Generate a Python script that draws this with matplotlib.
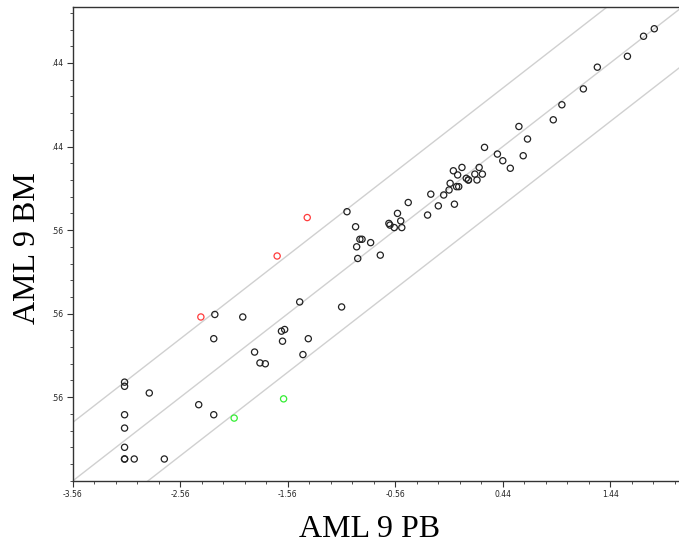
import matplotlib
matplotlib.use("Agg")
import matplotlib.pyplot as plt
import numpy as np
from matplotlib.ticker import FixedLocator

# values (PB on x, BM on y)
black_pb = [-3.08, -3.08, -2.85, -2.39, -3.08, -2.25, -3.08, -3.08, -3.08, -3.08,
            -2.99, -2.71, -1.82, -1.77, -2.24, -1.98, -2.25, -1.45, -1.62, -1.59,
            -1.61, -1.37, -1.87, -1.42, -1.06, -1.01, -0.93, -0.89, -0.87, -0.79,
            -0.92, -0.91, -0.70, -0.44, -0.54, -0.51, -0.62, -0.61, -0.57, -0.50,
            -0.23, -0.11, -0.16, -0.26, -0.01, -0.06, -0.05, 0.01, 0.03, 0.02,
            -0.02, 0.06, 0.10, 0.12, 0.12, 0.18, 0.25, 0.22, 0.20, 0.27,
            0.67, 0.39, 0.63, 0.44, 0.51, 0.59, 0.91, 0.99, 1.19, 1.32,
            1.60, 1.75, 1.85]
black_bm = [-2.38, -2.43, -2.51, -2.65, -2.77, -2.77, -2.93, -3.16, -3.30, -3.30,
            -3.30, -3.30, -2.15, -2.16, -1.57, -1.60, -1.86, -1.42, -1.77, -1.75,
            -1.89, -1.86, -2.02, -2.05, -1.48, -0.34, -0.52, -0.67, -0.67, -0.71,
            -0.76, -0.90, -0.86, -0.23, -0.36, -0.45, -0.48, -0.50, -0.53, -0.53,
            -0.13, -0.14, -0.27, -0.38, -0.25, -0.08, 0.00, -0.04, -0.04, 0.10,
            0.15, 0.19, 0.06, 0.04, 0.04, 0.11, 0.11, 0.19, 0.04, 0.43,
            0.53, 0.35, 0.33, 0.27, 0.18, 0.68, 0.76, 0.94, 1.13, 1.39,
            1.52, 1.76, 1.85]
red_pb = [-2.37, -1.66, -1.38]
red_bm = [-1.60, -0.87, -0.41]
green_pb = [-2.06, -1.60]
green_bm = [-2.81, -2.58]

band_offsets = [-0.7, 0.0, 0.7]
x_major = [-3.56, -2.56, -1.56, -0.56, 0.44, 1.44]
x_labels = ["-3.56", "-2.56", "-1.56", "-0.56", "0.44", "1.44"]
y_major = [-2.56, -1.56, -0.56, 0.44, 1.44]
y_labels = [".56", ".56", ".56", ".44", ".44"]

XMIN, XMAX = -3.56, 2.08
YMIN, YMAX = -3.56, 2.11
SPINE = "#333333"

fig = plt.figure(figsize=(6.79, 5.53), dpi=100)
ax = fig.add_axes([0.1075, 0.1307, 0.8925, 0.8566])

xs = np.array([XMIN - 1, XMAX + 1])
for off in band_offsets:
    ax.plot(xs, xs + off, color="#d0d0d0", lw=1.0, zorder=1)

ms = 20
ax.scatter(black_pb, black_bm, s=ms, facecolors="none", edgecolors="#222222", linewidths=0.9, zorder=3)
ax.scatter(red_pb, red_bm, s=ms, facecolors="none", edgecolors="#ff3b3b", linewidths=0.9, zorder=3)
ax.scatter(green_pb, green_bm, s=ms, facecolors="none", edgecolors="#33ee33", linewidths=0.9, zorder=3)

ax.set_xlim(XMIN, XMAX)
ax.set_ylim(YMIN, YMAX)

ax.xaxis.set_major_locator(FixedLocator(x_major))
ax.set_xticklabels(x_labels)
ax.xaxis.set_minor_locator(FixedLocator(np.arange(XMIN, XMAX, 0.2)))
ax.yaxis.set_major_locator(FixedLocator(y_major))
ax.set_yticklabels(y_labels)
ax.yaxis.set_minor_locator(FixedLocator(np.arange(YMIN, YMAX, 0.2)))

ax.tick_params(which="major", direction="out", length=4, width=0.8, color=SPINE,
               labelsize=5.5, pad=3, labelcolor="#222222")
ax.tick_params(which="minor", direction="out", length=2.5, width=0.6, color=SPINE)

ax.spines["right"].set_visible(False)
for side in ("top", "left", "bottom"):
    ax.spines[side].set_color(SPINE)
    ax.spines[side].set_linewidth(1.0)

fig.text(0.544, 0.042, "AML 9 PB", family="Liberation Serif", fontsize=23,
         ha="center", va="center")
fig.text(0.040, 0.552, "AML 9 BM", family="Liberation Serif", fontsize=23,
         ha="center", va="center", rotation=90)

fig.savefig("out.png", dpi=100)
